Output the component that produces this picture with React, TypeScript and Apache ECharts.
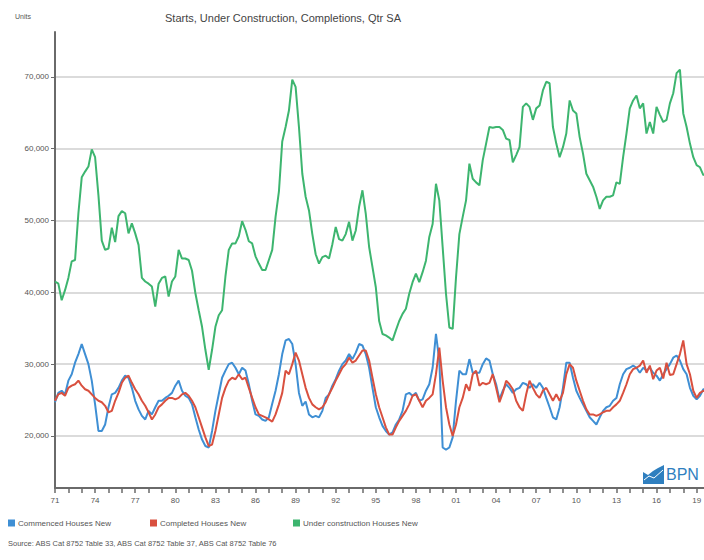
import React, { useEffect, useRef } from "react";
import * as echarts from "echarts";

const START_YEAR = 1971;
const QUARTER_COUNT = 197;

const underConstruction = [
  41500, 41200, 38900, 40300, 42000, 44300, 44500, 51000, 56000, 56800,
  57500, 59900, 58800, 53500, 47200, 45900, 46100, 49000, 47000, 50600,
  51300, 51000, 48200, 49600, 48200, 46600, 42000, 41500, 41200, 40800,
  38000, 41200, 42000, 42200, 39400, 41500, 42200, 45900, 44700, 44700,
  44500, 43000, 39900, 37500, 35200, 32000, 29200, 32000, 35200, 36800,
  37500, 42200, 45900, 46800, 46800, 47800, 49900, 48700, 47100, 46800,
  45000, 44000, 43100, 43100, 44500, 45900, 50500, 54000, 61000, 63000,
  65300, 69600, 68600, 63000, 56500, 53300, 51400, 48100, 45300, 44000,
  44900, 45100, 44700, 46700, 49100, 47400, 47200, 48100, 49800, 47200,
  48600, 51900, 54200, 50900, 46300, 43500, 40700, 36000, 34200, 34000,
  33700, 33300, 34700, 36000, 37000, 37700, 39800, 41400, 42600, 41400,
  42800, 44400, 47700, 49500, 55100, 52800, 46300, 39800, 35100, 34900,
  42100, 48100, 50500, 52800, 57900, 55800, 55300, 54900, 58400, 60700,
  63000, 62900, 63000, 63000, 62600, 61400, 61200, 58100, 59100, 60200,
  65800, 66300, 65800, 64000, 65600, 66000, 68100, 69300, 69100, 63000,
  60700, 58800, 60200, 62100, 66700, 65300, 64900, 61600, 59300, 56500,
  55600, 54700, 53300, 51600, 52800, 53300, 53300, 53500, 55300, 55100,
  58800, 62100, 65600, 66700, 67400, 65600, 66300, 62100, 63700, 62100,
  65800, 64700, 63700, 64000, 66300, 67700, 70500, 71000, 64900, 63000,
  60700, 58800, 57700, 57400, 56300, 56500, 57000,
];

const commenced = [
  24700, 26000, 26300, 25800, 27700, 28600, 30200, 31400, 32800, 31400,
  30000, 27700, 24400, 20700, 20700, 21600, 24000, 25800, 26000, 26700,
  27700, 28400, 28100, 26700, 24900, 23700, 22800, 22300, 23500, 23000,
  24000, 24900, 24900, 25300, 25600, 26000, 27000, 27700, 26300, 25600,
  25300, 24400, 22600, 20900, 19500, 18600, 18400, 20700, 23500, 25800,
  28100, 29100, 30000, 30200, 29500, 28600, 29500, 29100, 27200, 24900,
  23000, 22800, 22300, 22100, 22600, 24500, 26300, 28600, 31400, 33300,
  33500, 32800, 30000, 26000, 24200, 24800, 23000, 22600, 22800, 22600,
  23500, 25300, 25800, 27000, 27900, 29100, 30000, 30500, 31400, 30700,
  31600, 32800, 32600, 31400, 29500, 26700, 24000, 22600, 21400, 20700,
  20200, 20500, 21600, 22300, 23500, 25800, 26000, 25600, 26000, 24900,
  25100, 26300, 27200, 29500, 34200, 30500, 18400, 18100, 18400, 19800,
  24900, 29100, 28600, 28600, 30700, 28800, 28800, 28800, 30000, 30800,
  30500, 28600, 27200, 25100, 26300, 27200, 26700, 26000, 26500, 26700,
  27400, 27200, 26700, 27200, 26700, 27400, 26700, 25300, 24000, 22600,
  22300, 24000, 26700, 30200, 30200, 28100, 26300, 25300, 24400, 23500,
  22600, 22100, 21600, 22600, 23500, 24000, 24200, 24900, 25300, 27200,
  28600, 29300, 29500, 29800, 29500, 28800, 29500, 29100, 29500, 28800,
  28400, 27700, 28600, 29300, 30000, 30900, 31200, 30500, 29300, 28600,
  26700, 25600, 25100, 25600, 26500, 26500, 26800,
];

const completed = [
  24900, 25800, 26000, 25600, 26700, 27000, 27200, 27700, 27000, 26500,
  26300, 25800, 25300, 24900, 24700, 24200, 23300, 23500, 24900, 26000,
  27400, 28100, 28400, 27400, 26500, 25800, 24900, 24200, 23300, 22300,
  23000, 24000, 24400, 24900, 25300, 25300, 25100, 25300, 25800, 26000,
  25600, 24900, 24000, 22600, 21200, 19800, 18600, 18800, 20700, 23000,
  25300, 26700, 27700, 28100, 27900, 28600, 27900, 28100, 26700, 25300,
  24000, 23000, 22800, 22600, 22300, 22000, 23000, 24400, 26000, 29100,
  28600, 30000, 31600, 30500, 28600, 26700, 25300, 24400, 24000, 23700,
  24000, 24700, 25800, 26700, 27700, 28600, 29500, 30000, 30900, 30200,
  30500, 31200, 31900, 31900, 30500, 28100, 25800, 24000, 22600, 21200,
  20200, 20200, 21200, 22100, 22800, 23500, 24400, 25600, 25800, 24900,
  24000, 24900, 25300, 25800, 28600, 32300, 27700, 24000, 21600, 20000,
  21600, 24000, 25300, 27200, 26300, 28600, 29100, 27000, 27400, 27200,
  27400, 28600, 26700, 24700, 26000, 27700, 27200, 26500, 24900, 24000,
  23500, 25800, 27700, 26700, 25800, 25300, 26300, 26700, 25800, 24900,
  25800, 24900, 26000, 28600, 30000, 29500, 27700, 26300, 24900, 23700,
  23000, 23000, 22800, 23000, 23300, 23500, 23500, 24000, 24400, 24900,
  26000, 27200, 28600, 29300, 29500, 29800, 30500, 28800, 29800, 27900,
  29100, 29500, 28000, 30200, 28500, 28600, 30000, 31400, 33300, 30000,
  28600, 26300, 25300, 26000, 26300, 26200, 26400,
];

const yTicks = [20000, 30000, 40000, 50000, 60000, 70000];
const seriesNames = ["Commenced Houses New", "Completed Houses New", "Under construction Houses New"];
const seriesColors = ["#3f8fd4", "#d9503f", "#3db56f"];
const legendLefts = [8, 150, 293];
const titleText = "Starts, Under Construction, Completions, Qtr SA";
const unitsText = "Units";
const sourceText = "Source: ABS Cat 8752 Table 33, ABS Cat 8752 Table 37, ABS Cat 8752 Table 76";
const logoText = "BPN";

const quarters: string[] = [];
for (let i = 0; i < QUARTER_COUNT; i++) {
  const y = START_YEAR + Math.floor(i / 4);
  quarters.push(`${y}Q${(i % 4) + 1}`);
}

const FONT = "'Liberation Sans', Arial, sans-serif";

export default function App() {
  const ref = useRef<HTMLDivElement>(null);
  useEffect(() => {
    if (!ref.current) return;
    const chart = echarts.init(ref.current, undefined, { renderer: "svg" });
    const values = [commenced, completed, underConstruction];
    chart.setOption({
      animation: false,
      backgroundColor: "#ffffff",
      textStyle: { fontFamily: FONT },
      grid: { left: 55, top: 32, width: 655, height: 456, containLabel: false },
      legend: seriesNames.map((name, i) => ({
        left: legendLefts[i],
        top: 519,
        padding: 0,
        icon: "rect",
        itemWidth: 7,
        itemHeight: 7,
        itemGap: 0,
        selectedMode: false,
        textStyle: { fontSize: 8, color: "#555", padding: [0, 0, 0, -2] },
        data: [name],
      })),
      xAxis: {
        type: "category",
        boundaryGap: false,
        data: quarters,
        axisLine: { lineStyle: { color: "#6a6a6a", width: 2 } },
        axisTick: { interval: 3, length: 5, lineStyle: { color: "#6a6a6a", width: 1.5 } },
        axisLabel: {
          interval: 11,
          fontSize: 8,
          color: "#555",
          margin: 8,
          formatter: (v: string) => v.slice(2, 4),
        },
        splitLine: { show: false },
      },
      yAxis: {
        type: "value",
        min: 12760,
        max: 76230,
        axisLine: { show: true, lineStyle: { color: "#6a6a6a", width: 2 } },
        axisTick: { show: true, length: 4, customValues: yTicks, lineStyle: { color: "#6a6a6a" } },
        axisLabel: {
          customValues: yTicks,
          fontSize: 8,
          color: "#555",
          margin: 6,
          formatter: (v: number) => v.toLocaleString("en-US"),
        },
        splitLine: { show: true, lineStyle: { color: "#cfcfcf", width: 1.5 } },
      },
      series: seriesNames.map((name, i) => ({
        name,
        type: "line",
        data: values[i],
        symbol: "none",
        color: seriesColors[i],
        lineStyle: { width: 2, color: seriesColors[i] },
        z: i === 2 ? 3 : 2,
      })),
      graphic: [
        {
          type: "text",
          left: 165,
          top: 12,
          style: { text: titleText, fontSize: 11, fill: "#444", fontFamily: FONT },
        },
        {
          type: "text",
          left: 15,
          top: 13,
          style: { text: unitsText, fontSize: 7, fill: "#555", fontFamily: FONT },
        },
        {
          type: "text",
          left: 8,
          top: 539,
          style: { text: sourceText, fontSize: 7.5, fill: "#555", fontFamily: FONT },
        },
        {
          type: "polygon",
          shape: {
            points: [
              [643, 484],
              [643, 472],
              [648, 475],
              [653, 471],
              [658, 468],
              [664, 465],
              [664, 484],
            ],
          },
          style: { fill: "#2f7fbf" },
          z: 10,
        },
        {
          type: "polyline",
          shape: { points: [[644, 480], [649, 476], [654, 478], [663, 470]] },
          style: { stroke: "#ffffff", lineWidth: 1, fill: null },
          z: 11,
        },
        {
          type: "text",
          left: 666,
          top: 466,
          style: { text: logoText, fontSize: 16, fill: "#2f7fbf", fontFamily: "'Liberation Sans Narrow', 'Liberation Sans', Arial" },
          z: 10,
        },
      ],
    });
    return () => chart.dispose();
  }, []);
  return (
    <div style={{ position: "fixed", left: 0, top: 0, width: 704, height: 560, overflow: "hidden", background: "#fff" }}>
      <div ref={ref} style={{ width: 720, height: 560 }} />
    </div>
  );
}
